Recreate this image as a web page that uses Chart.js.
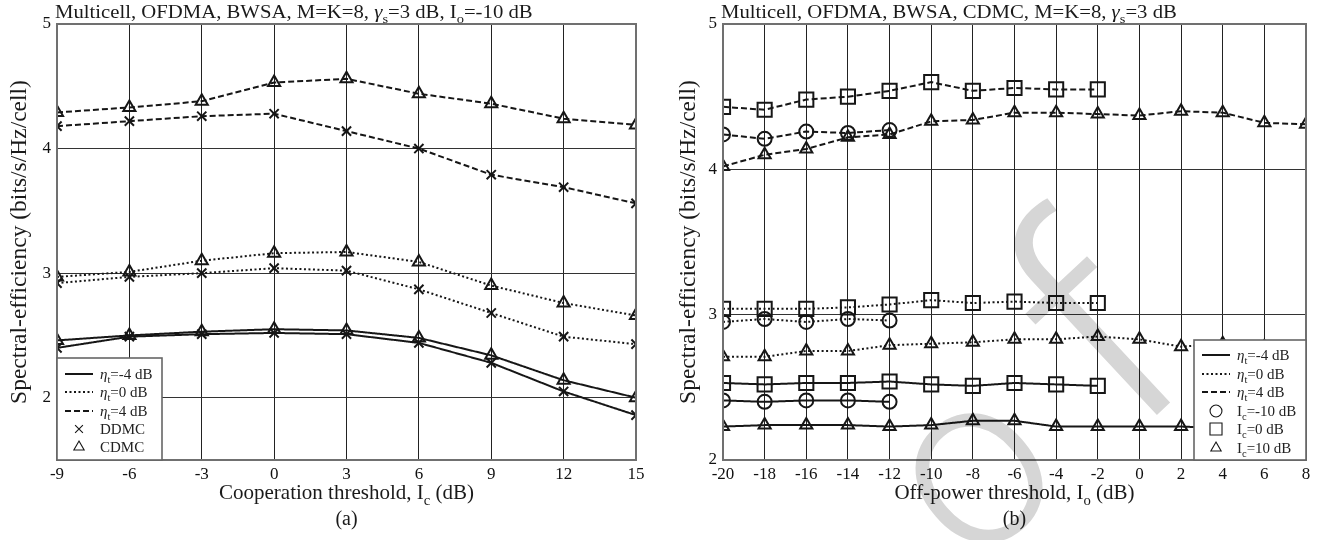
<!DOCTYPE html>
<html>
<head>
<meta charset="utf-8">
<script src="https://cdn.jsdelivr.net/npm/chart.js@4.4.1/dist/chart.umd.min.js"></script>
<style>
  html, body { margin: 0; padding: 0; background: #fff; }
  #wrap { position: relative; width: 1337px; height: 540px; }
  canvas { position: absolute; top: 0; }
</style>
</head>
<body>
<div id="wrap">
  <canvas id="chartA" width="668" height="540" style="left:0"></canvas>
  <canvas id="chartB" width="669" height="540" style="left:668px"></canvas>
</div>
<script>
/* ── Panel (a): spectral efficiency vs cooperation threshold ── */
const coopThr = [-9, -6, -3, 0, 3, 6, 9, 12, 15];
const cdmcEta4  = [4.29, 4.33, 4.38, 4.53, 4.56, 4.44, 4.36, 4.24, 4.19];
const ddmcEta4  = [4.18, 4.22, 4.26, 4.28, 4.14, 4.00, 3.79, 3.69, 3.56];
const cdmcEta0  = [2.97, 3.01, 3.10, 3.16, 3.17, 3.09, 2.90, 2.76, 2.66];
const ddmcEta0  = [2.92, 2.97, 3.00, 3.04, 3.02, 2.87, 2.68, 2.49, 2.43];
const cdmcEtaM4 = [2.46, 2.50, 2.53, 2.55, 2.54, 2.48, 2.34, 2.14, 2.00];
const ddmcEtaM4 = [2.40, 2.49, 2.51, 2.52, 2.51, 2.44, 2.28, 2.05, 1.86];
const yTicksA = [2, 3, 4, 5];

/* ── Panel (b): spectral efficiency vs off-power threshold ── */
const offThr = [-20, -18, -16, -14, -12, -10, -8, -6, -4, -2, 0, 2, 4, 6, 8];
const icM10Eta4  = [4.24, 4.21, 4.26, 4.25, 4.27];
const ic0Eta4    = [4.43, 4.41, 4.48, 4.50, 4.54, 4.60, 4.54, 4.56, 4.55, 4.55];
const ic10Eta4   = [4.02, 4.10, 4.14, 4.22, 4.24, 4.33, 4.34, 4.39, 4.39, 4.38, 4.37, 4.40, 4.39, 4.32, 4.31];
const icM10Eta0  = [2.95, 2.97, 2.95, 2.97, 2.96];
const ic0Eta0    = [3.04, 3.04, 3.04, 3.05, 3.07, 3.10, 3.08, 3.09, 3.08, 3.08];
const ic10Eta0   = [2.71, 2.71, 2.75, 2.75, 2.79, 2.80, 2.81, 2.83, 2.83, 2.85, 2.83, 2.78, 2.80, 2.78, 2.77];
const icM10EtaM4 = [2.41, 2.40, 2.41, 2.41, 2.40];
const ic0EtaM4   = [2.53, 2.52, 2.53, 2.53, 2.54, 2.52, 2.51, 2.53, 2.52, 2.51];
const ic10EtaM4  = [2.23, 2.24, 2.24, 2.24, 2.23, 2.24, 2.27, 2.27, 2.23, 2.23, 2.23, 2.23, 2.22, 2.22, 2.20];
const yTicksB = [2, 3, 4, 5];

/* ── Text (rich parts: [text, style]) ── */
const titleA = [['Multicell, OFDMA, BWSA, M=K=8, '], ['γ', 'i'], ['s', 'sub'], ['=3 dB, I'], ['o', 'sub'], ['=-10 dB']];
const titleB = [['Multicell, OFDMA, BWSA, CDMC, M=K=8, '], ['γ', 'i'], ['s', 'sub'], ['=3 dB']];
const xTitleA = [['Cooperation threshold, I'], ['c', 'sub'], [' (dB)']];
const xTitleB = [['Off-power threshold, I'], ['o', 'sub'], [' (dB)']];
const yTitle = 'Spectral-efficiency (bits/s/Hz/cell)';
const etaLabels = [
    [['η', 'i'], ['t', 'sub'], ['=-4 dB']],
    [['η', 'i'], ['t', 'sub'], ['=0 dB']],
    [['η', 'i'], ['t', 'sub'], ['=4 dB']]
];
const schemeLabels = [[['DDMC']], [['CDMC']]];
const icLabels = [
    [['I'], ['c', 'sub'], ['=-10 dB']],
    [['I'], ['c', 'sub'], ['=0 dB']],
    [['I'], ['c', 'sub'], ['=10 dB']]
];

const SERIF = '"Liberation Serif", "Times New Roman", serif';
const INK = '#161616';
const SOLID = [1, 0], DOTTED = [2, 2.5], DASHED = [6, 3];
const RADIUS = { triangle: 7, crossRot: 6.5, circle: 7, rect: 10 };

function series(xs, ys, dash, marker) {
    return {
        data: ys.map((v, i) => ({ x: xs[i], y: v })),
        borderColor: INK,
        borderWidth: 2,
        borderDash: dash,
        pointStyle: marker,
        pointRadius: RADIUS[marker],
        pointHoverRadius: RADIUS[marker],
        pointBorderWidth: 2,
        pointBorderColor: INK,
        pointBackgroundColor: 'rgba(0,0,0,0)',
        tension: 0,
        fill: false
    };
}

/* ── Rich text helper (italic + subscripts) ── */
function fontOf(p, size) {
    const st = p[1] || '';
    const sub = st === 'sub';
    return (st === 'i' ? 'italic ' : '') + (sub ? size * 0.7 : size) + 'px ' + SERIF;
}
function drawRich(ctx, parts, x, y, size, align) {
    let total = 0;
    parts.forEach(p => { ctx.font = fontOf(p, size); total += ctx.measureText(p[0]).width; });
    let cx = align === 'center' ? x - total / 2 : x;
    ctx.textAlign = 'left';
    ctx.textBaseline = 'alphabetic';
    parts.forEach(p => {
        ctx.font = fontOf(p, size);
        ctx.fillText(p[0], cx, p[1] === 'sub' ? y + size * 0.28 : y);
        cx += ctx.measureText(p[0]).width;
    });
}

/* ── Decorations: titles, frame, boxed legend ── */
function decor(cfg) {
    return {
        id: 'decor',
        afterDatasetsDraw(chart) {
            const ctx = chart.ctx;
            const a = chart.chartArea;
            ctx.save();
            // frame
            ctx.strokeStyle = '#707070';
            ctx.lineWidth = 2;
            ctx.setLineDash([]);
            ctx.strokeRect(a.left, a.top, a.right - a.left, a.bottom - a.top);

            // legend box
            const L = cfg.legend;
            ctx.fillStyle = '#fff';
            ctx.fillRect(L.x1, L.y1, L.x2 - L.x1, L.y2 - L.y1);
            ctx.strokeStyle = '#666';
            ctx.lineWidth = 1.6;
            ctx.strokeRect(L.x1, L.y1, L.x2 - L.x1, L.y2 - L.y1);
            L.rows.forEach((r, i) => {
                const y = L.rowY[i];
                ctx.strokeStyle = INK;
                if (r.dash) {
                    ctx.lineWidth = 2;
                    ctx.setLineDash(r.dash);
                    ctx.beginPath();
                    ctx.moveTo(L.lineX1, y);
                    ctx.lineTo(L.lineX2, y);
                    ctx.stroke();
                    ctx.setLineDash([]);
                } else {
                    ctx.lineWidth = 1.1;
                    ctx.fillStyle = 'rgba(0,0,0,0)';
                    Chart.helpers.drawPoint(ctx, { pointStyle: r.marker, radius: RADIUS[r.marker] * 0.85, borderWidth: 1.1 },
                        (L.lineX1 + L.lineX2) / 2, y);
                }
                ctx.fillStyle = '#222';
                drawRich(ctx, r.label, L.textX, y + 5, 15, 'left');
            });

            // titles
            ctx.fillStyle = '#1a1a1a';
            ctx.save();
            ctx.translate(a.left - 2, 18);
            ctx.scale(1.12, 1);
            drawRich(ctx, cfg.title, 0, 0, 18.5, 'left');
            ctx.restore();
            drawRich(ctx, cfg.xTitle, (a.left + a.right) / 2, 499, 21, 'center');
            drawRich(ctx, [[cfg.tag]], (a.left + a.right) / 2, 525, 20, 'center');
            ctx.save();
            ctx.translate(cfg.yTitleX, (a.top + a.bottom) / 2);
            ctx.rotate(-Math.PI / 2);
            ctx.font = '23.5px ' + SERIF;
            ctx.textAlign = 'center';
            ctx.textBaseline = 'middle';
            ctx.fillText(yTitle, 0, 0);
            ctx.restore();
            ctx.restore();
        },
        afterDraw(chart) {
            if (!cfg.watermark) return;
            // faint "of" stamp behind panel (b)
            const ctx = chart.ctx;
            ctx.save();
            ctx.globalCompositeOperation = 'multiply';
            ctx.fillStyle = '#d6d6d6';
            ctx.textBaseline = 'alphabetic';
            ctx.font = '300 310px Roboto, "DejaVu Sans", sans-serif';
            ctx.save();
            ctx.translate(462, 440);
            ctx.rotate(-43 * Math.PI / 180);
            ctx.fillText('f', 0, 0);
            ctx.restore();
            ctx.font = '300 245px Roboto, "DejaVu Sans", sans-serif';
            ctx.save();
            ctx.translate(326, 496);
            ctx.rotate(-40 * Math.PI / 180);
            ctx.textAlign = 'center';
            ctx.textBaseline = 'middle';
            ctx.fillText('o', 0, -20);
            ctx.restore();
            ctx.restore();
        }
    };
}

function options(xMin, xMax, xStep, yMin, yTicks, leftW, rightPad) {
    const tickFont = { family: SERIF, size: 17 };
    return {
        responsive: false,
        animation: false,
        devicePixelRatio: 1,
        layout: { autoPadding: false, padding: { left: 0, top: 24, right: rightPad, bottom: 0 } },
        plugins: { legend: { display: false }, tooltip: { enabled: false } },
        scales: {
            x: {
                type: 'linear', min: xMin, max: xMax,
                ticks: { stepSize: xStep, color: '#111', font: tickFont, padding: 4 },
                grid: { color: '#222', lineWidth: 1, drawTicks: false },
                border: { display: false },
                afterFit: s => { s.height = 80; }
            },
            y: {
                type: 'linear', min: yMin, max: 5,
                afterBuildTicks: s => { s.ticks = yTicks.map(v => ({ value: v })); },
                ticks: { color: '#111', font: tickFont, padding: 6 },
                grid: { color: '#333', lineWidth: 1, drawTicks: false },
                border: { display: false },
                afterFit: s => { s.width = leftW; }
            }
        }
    };
}

/* ── Chart (a) ── */
new Chart(document.getElementById('chartA'), {
    type: 'line',
    data: {
        datasets: [
            series(coopThr, cdmcEta4, DASHED, 'triangle'),
            series(coopThr, ddmcEta4, DASHED, 'crossRot'),
            series(coopThr, cdmcEta0, DOTTED, 'triangle'),
            series(coopThr, ddmcEta0, DOTTED, 'crossRot'),
            series(coopThr, cdmcEtaM4, SOLID, 'triangle'),
            series(coopThr, ddmcEtaM4, SOLID, 'crossRot')
        ]
    },
    options: options(-9, 15, 3, 1.5, yTicksA, 57, 32),
    plugins: [decor({
        title: titleA, xTitle: xTitleA, tag: '(a)', yTitleX: 20,
        legend: {
            x1: 57, y1: 358, x2: 162, y2: 460,
            lineX1: 65, lineX2: 93, textX: 100,
            rowY: [374, 392, 411, 429, 447],
            rows: [
                { dash: SOLID, label: etaLabels[0] },
                { dash: DOTTED, label: etaLabels[1] },
                { dash: DASHED, label: etaLabels[2] },
                { marker: 'crossRot', label: schemeLabels[0] },
                { marker: 'triangle', label: schemeLabels[1] }
            ]
        }
    })]
});

/* ── Chart (b) ── */
new Chart(document.getElementById('chartB'), {
    type: 'line',
    data: {
        datasets: [
            series(offThr, ic0Eta4, DASHED, 'rect'),
            series(offThr, icM10Eta4, DASHED, 'circle'),
            series(offThr, ic10Eta4, DASHED, 'triangle'),
            series(offThr, ic0Eta0, DOTTED, 'rect'),
            series(offThr, icM10Eta0, DOTTED, 'circle'),
            series(offThr, ic10Eta0, DOTTED, 'triangle'),
            series(offThr, ic0EtaM4, SOLID, 'rect'),
            series(offThr, icM10EtaM4, SOLID, 'circle'),
            series(offThr, ic10EtaM4, SOLID, 'triangle')
        ]
    },
    options: options(-20, 8, 2, 2, yTicksB, 55, 31),
    plugins: [decor({
        title: titleB, xTitle: xTitleB, tag: '(b)', yTitleX: 21, watermark: true,
        legend: {
            x1: 526, y1: 340, x2: 638, y2: 460,
            lineX1: 534, lineX2: 562, textX: 569,
            rowY: [355, 374, 392, 411, 429, 448],
            rows: [
                { dash: SOLID, label: etaLabels[0] },
                { dash: DOTTED, label: etaLabels[1] },
                { dash: DASHED, label: etaLabels[2] },
                { marker: 'circle', label: icLabels[0] },
                { marker: 'rect', label: icLabels[1] },
                { marker: 'triangle', label: icLabels[2] }
            ]
        }
    })]
});
</script>
</body>
</html>
